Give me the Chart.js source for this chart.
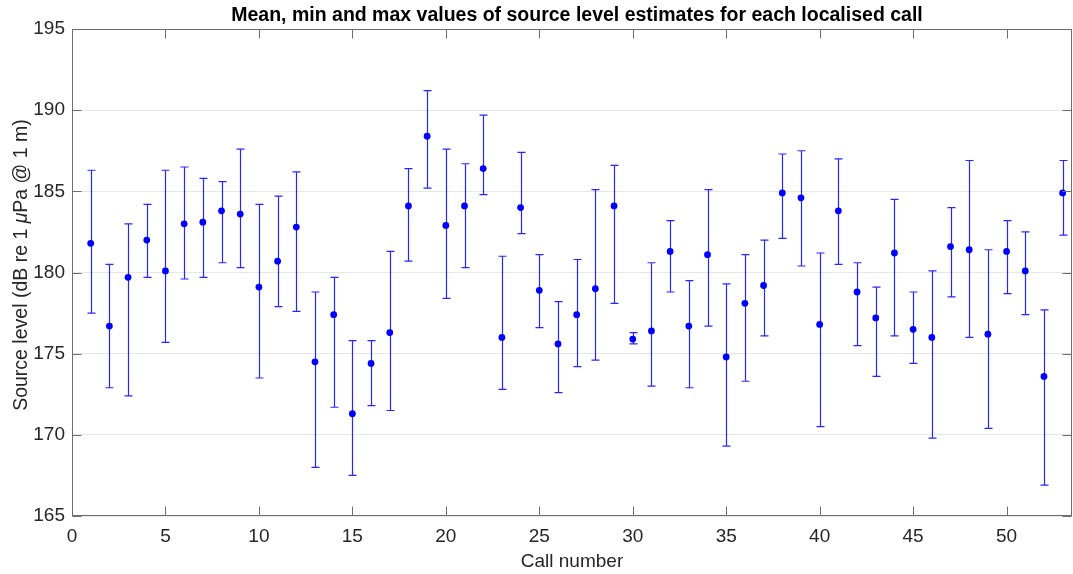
<!DOCTYPE html>
<html>
<head>
<meta charset="utf-8">
<script src="https://cdn.jsdelivr.net/npm/chart.js@4.4.1/dist/chart.umd.min.js"></script>
<style>
  html, body { margin: 0; padding: 0; background: #ffffff; }
  #wrap { width: 1073px; height: 574px; }
</style>
</head>
<body>
<div id="wrap"><canvas id="c" width="1073" height="574"></canvas></div>
<script>
// ---- data ----
const callNumbers = [1,2,3,4,5,6,7,8,9,10,11,12,13,14,15,16,17,18,19,20,21,22,23,24,25,26,27,28,29,30,31,32,33,34,35,36,37,38,39,40,41,42,43,44,45,46,47,48,49,50,51,52,53];
const meanLevel = [181.8,176.7,179.7,182.0,180.1,183.0,183.1,183.8,183.6,179.1,180.7,182.8,174.5,177.4,171.3,174.4,176.3,184.1,188.4,182.9,184.1,186.4,176.0,184.0,178.9,175.6,177.4,179.0,184.1,175.9,176.4,181.3,176.7,181.1,174.8,178.1,179.2,184.9,184.6,176.8,183.8,178.8,177.2,181.2,176.5,176.0,181.6,181.4,176.2,181.3,180.1,173.6,184.9];
const minLevel  = [177.5,172.9,172.4,179.7,175.7,179.6,179.7,180.6,180.3,173.5,177.9,177.6,168.0,171.7,167.5,171.8,171.5,180.7,185.2,178.4,180.3,184.8,172.8,182.4,176.6,172.6,174.2,174.6,178.1,175.6,173.0,178.8,172.9,176.7,169.3,173.3,176.1,182.1,180.4,170.5,180.5,175.5,173.6,176.1,174.4,169.8,178.5,176.0,170.4,178.7,177.4,166.9,182.3];
const maxLevel  = [186.3,180.5,183.0,184.2,186.3,186.5,185.8,185.6,187.6,184.2,184.7,186.2,178.8,179.7,175.8,175.8,181.3,186.4,191.2,187.6,186.7,189.7,181.0,187.4,181.1,178.2,180.8,185.1,186.6,176.3,180.6,183.2,179.5,185.1,179.3,181.1,182.0,187.3,187.5,181.2,187.0,180.6,179.1,184.5,178.8,180.1,184.0,186.9,181.4,183.2,182.5,177.7,186.9];
const xTickValues = [0,5,10,15,20,25,30,35,40,45,50];
const yTickValues = [165,170,175,180,185,190,195];

const FONT = "'Liberation Sans', Arial, Helvetica, sans-serif";
const TEXT_COLOR = '#262626';
const AXIS_COLOR = '#6e6e6e';
const BLUE = '#0000ff';

// stretch the plot area to the canvas' right edge (as in the reference)
const areaPlugin = {
  id: 'areaFix',
  afterLayout(chart) {
    const target = chart.width - 1;
    const x = chart.scales.x;
    if (Math.abs(chart.chartArea.right - target) > 0.01) {
      chart.chartArea.right = target;
      chart.chartArea.width = target - chart.chartArea.left;
      x.right = target;
      x.width = x.right - x.left;
      x.configure();
    }
    if (chart.titleBlock) {
      chart.titleBlock.left = chart.chartArea.left + 10;
      chart.titleBlock.right = target;
      chart.titleBlock.width = chart.titleBlock.right - chart.titleBlock.left;
    }
  }
};

const errorBarPlugin = {
  id: 'errorBars',
  beforeDatasetsDraw(chart) {
    const { ctx, scales: { x, y } } = chart;
    ctx.save();
    ctx.strokeStyle = BLUE;
    ctx.globalAlpha = 0.85;
    ctx.lineWidth = 1.2;
    callNumbers.forEach((c, i) => {
      const px = Math.round(x.getPixelForValue(c)) + 0.5;
      const yt = y.getPixelForValue(maxLevel[i]);
      const yb = y.getPixelForValue(minLevel[i]);
      ctx.beginPath();
      ctx.moveTo(px, yt); ctx.lineTo(px, yb);
      ctx.moveTo(px - 4, yt); ctx.lineTo(px + 4, yt);
      ctx.moveTo(px - 4, yb); ctx.lineTo(px + 4, yb);
      ctx.stroke();
    });
    ctx.restore();
  }
};

const boxPlugin = {
  id: 'axesBox',
  afterDraw(chart) {
    const { ctx, chartArea: a, scales: { x, y } } = chart;
    ctx.save();
    ctx.strokeStyle = AXIS_COLOR;
    ctx.lineWidth = 1;
    const L = Math.round(a.left) + 0.5, R = Math.round(a.right) - 0.5;
    const T = Math.round(a.top) + 0.5, B = Math.round(a.bottom) - 0.5;
    ctx.strokeRect(L, T, R - L, B - T);
    const tl = 9;
    ctx.beginPath();
    xTickValues.forEach(v => {
      const px = Math.round(x.getPixelForValue(v)) + 0.5;
      ctx.moveTo(px, B); ctx.lineTo(px, B - tl);
      ctx.moveTo(px, T); ctx.lineTo(px, T + tl);
    });
    yTickValues.forEach(v => {
      const py = Math.round(y.getPixelForValue(v)) + 0.5;
      ctx.moveTo(L, py); ctx.lineTo(L + tl, py);
      ctx.moveTo(R, py); ctx.lineTo(R - tl, py);
    });
    ctx.stroke();

    // y-axis label with italic mu
    const fs = 19.5;
    const parts = [
      { t: 'Source level (dB re 1 ', f: fs + 'px ' + FONT },
      { t: 'μ', f: 'italic ' + fs + 'px ' + FONT },
      { t: 'Pa @ 1 m)', f: fs + 'px ' + FONT }
    ];
    let total = 0;
    parts.forEach(p => { ctx.font = p.f; p.w = ctx.measureText(p.t).width; total += p.w; });
    ctx.translate(22, 265);
    ctx.rotate(-Math.PI / 2);
    ctx.fillStyle = TEXT_COLOR;
    ctx.textBaseline = 'middle';
    ctx.textAlign = 'left';
    let cx = -total / 2;
    parts.forEach(p => { ctx.font = p.f; ctx.fillText(p.t, cx, 0); cx += p.w; });
    ctx.restore();
  }
};

new Chart(document.getElementById('c'), {
  type: 'scatter',
  data: {
    datasets: [{
      label: 'Mean source level',
      data: callNumbers.map((c, i) => ({ x: c, y: meanLevel[i] })),
      backgroundColor: BLUE,
      borderColor: BLUE,
      borderWidth: 0,
      pointRadius: 3.4,
      pointHoverRadius: 3.4
    }]
  },
  options: {
    responsive: false,
    animation: false,
    devicePixelRatio: 1,
    layout: { padding: { left: 0, right: 1, top: 0, bottom: 0 } },
    plugins: {
      legend: { display: false },
      tooltip: { enabled: false },
      title: {
        display: true,
        fullSize: false,
        text: 'Mean, min and max values of source level estimates for each localised call',
        color: '#000000',
        font: { family: FONT, size: 19.5, weight: 'bold', lineHeight: 1.2 },
        padding: { top: 3.5, bottom: 2.1 }
      }
    },
    scales: {
      x: {
        type: 'linear',
        min: 0,
        max: 53.5,
        afterBuildTicks(scale) { scale.ticks = xTickValues.map(v => ({ value: v })); },
        afterFit(scale) { scale.height = 58; scale.paddingLeft = 0; scale.paddingRight = 0; },
        grid: { display: false, drawTicks: false },
        border: { display: false },
        ticks: {
          color: TEXT_COLOR,
          padding: 9,
          maxRotation: 0,
          font: { family: FONT, size: 19 },
          callback: v => String(v)
        },
        title: {
          display: true,
          text: 'Call number',
          color: TEXT_COLOR,
          font: { family: FONT, size: 19, lineHeight: 1.2 },
          padding: { top: 0, bottom: 1 }
        }
      },
      y: {
        type: 'linear',
        min: 165,
        max: 195,
        afterBuildTicks(scale) { scale.ticks = yTickValues.map(v => ({ value: v })); },
        afterFit(scale) { scale.width = 72; scale.paddingTop = 0; scale.paddingBottom = 0; },
        grid: { display: true, drawTicks: false, color: '#e6e6e6', lineWidth: 1 },
        border: { display: false },
        ticks: {
          color: TEXT_COLOR,
          padding: 7,
          font: { family: FONT, size: 19 },
          callback: v => String(v)
        }
      }
    }
  },
  plugins: [areaPlugin, errorBarPlugin, boxPlugin]
});
</script>
</body>
</html>
